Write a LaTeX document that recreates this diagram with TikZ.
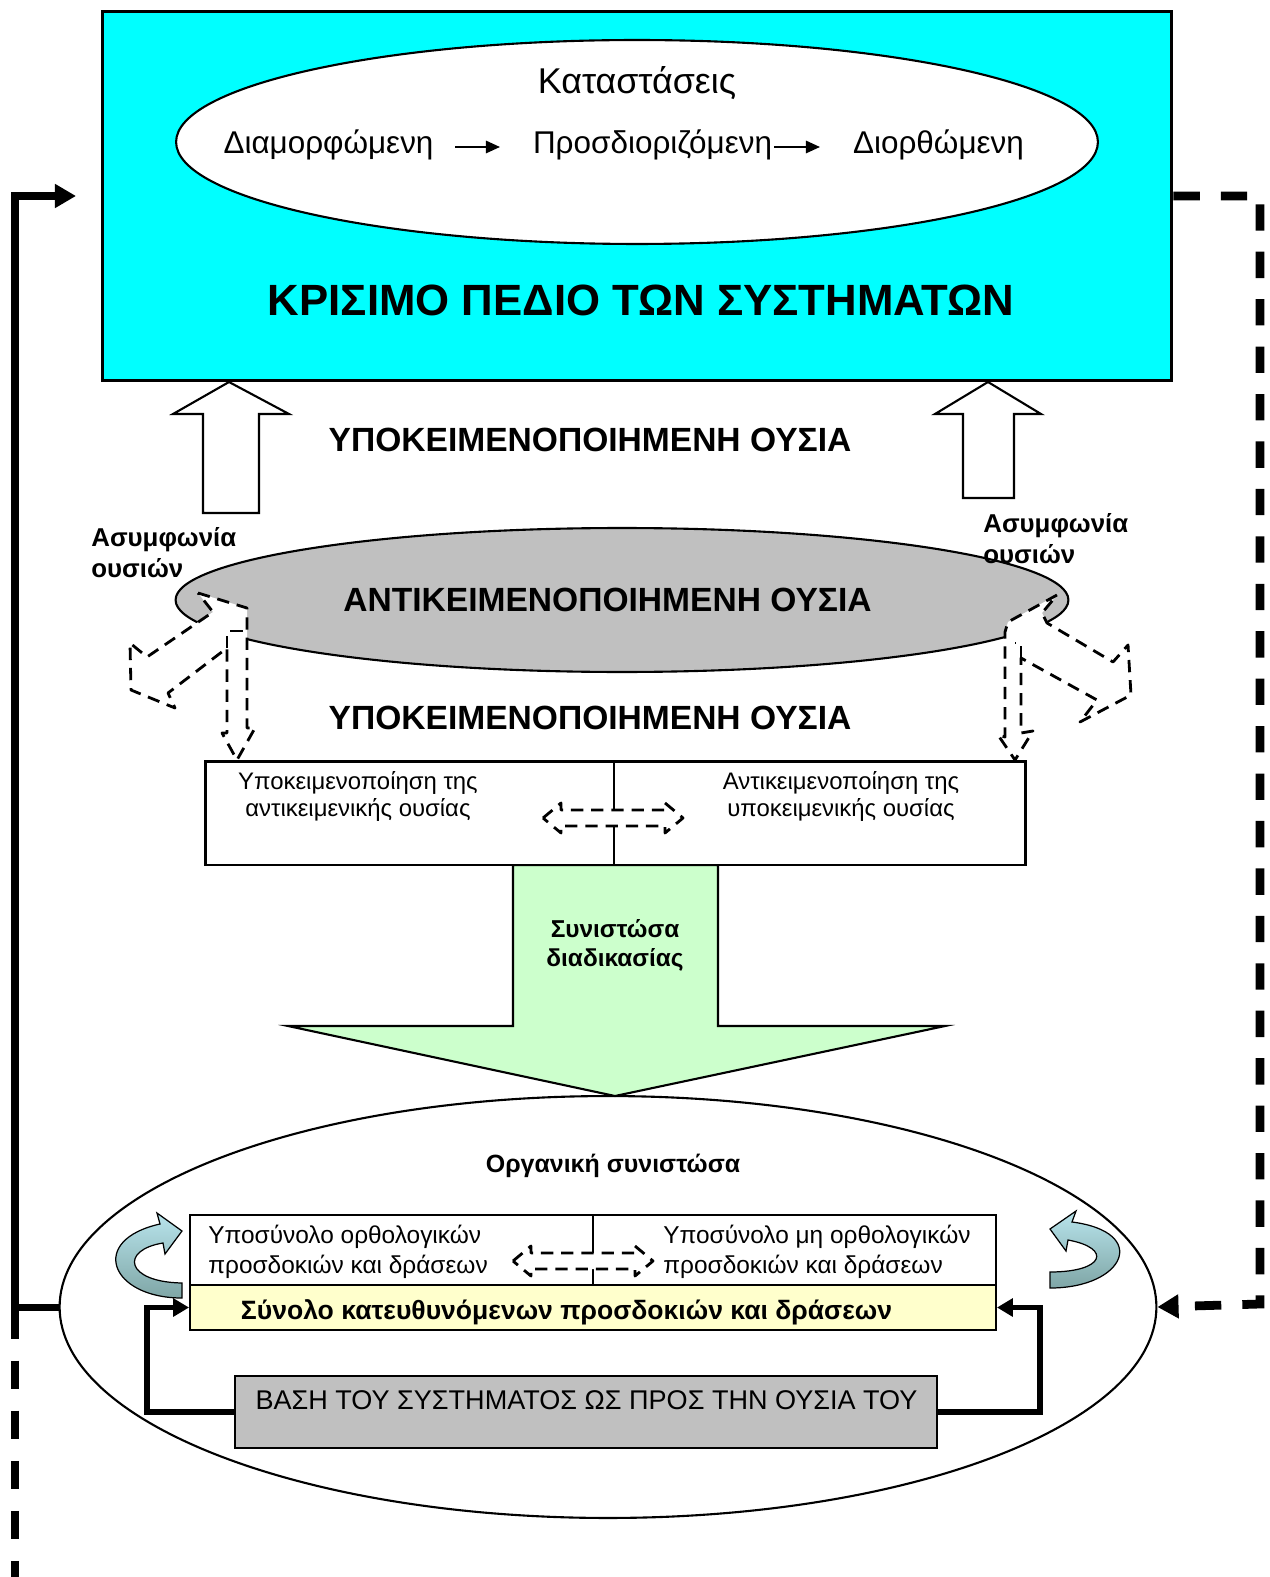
\documentclass[tikz,border=0pt]{standalone}
\usepackage{fontspec}
\setmainfont{Liberation Sans}
\usetikzlibrary{arrows.meta,shapes.geometric}
\definecolor{cyanbox}{HTML}{00FFFF}
\definecolor{greyfill}{HTML}{C0C0C0}
\definecolor{greenfill}{HTML}{CCFFCC}
\definecolor{yellowfill}{HTML}{FFFFCC}
\definecolor{ribtop}{HTML}{B8E4EC}
\definecolor{ribbot}{HTML}{7FA6A6}
\newcommand{\setfs}[2]{\fontsize{#1}{#2}\selectfont}
\begin{document}
\begin{tikzpicture}[x=0.02cm,y=-0.02cm,
  txt/.style={inner sep=0pt, anchor=center},
  hollow/.style={draw, fill=white, line width=1.2pt, line join=miter},
  dashpoly/.style={draw, fill=white, line width=1.6pt, dash pattern=on 7pt off 4.5pt, line join=round},
  boxline/.style={draw, line width=1.2pt, inner sep=0pt},
  ribbon/.style={top color=ribtop, bottom color=ribbot, draw=black, line width=0.7pt},
  smallarrow/.style={line width=1.2pt, -{Triangle[length=8pt,width=7pt]}},
  innerconn/.style={line width=3pt, line join=miter, -{Triangle[length=9pt,width=10pt]}},
  fbsolid/.style={line width=4pt, line join=miter},
]
\fill[white] (0,0) rectangle (1269,1577);
\useasboundingbox (0,0) rectangle (1269,1577);

% top critical field
\node[draw, line width=1.7pt, fill=cyanbox, minimum width=21.4cm, minimum height=7.4cm, inner sep=0pt] (crit) at (637,196) {};
\node[ellipse, boxline, fill=white, minimum width=18.44cm, minimum height=4.08cm] (states) at (637,142) {};
\node[txt, font=\setfs{20.4}{24}] (katast) at (637,83) {Καταστάσεις};
\node[txt, font=\setfs{17.9}{21}] (d1) at (328.5,145) {Διαμορφώμενη};
\node[txt, font=\setfs{17.9}{21}] (d2) at (652.5,145) {Προσδιοριζόμενη};
\node[txt, font=\setfs{17.9}{21}] (d3) at (938.5,145) {Διορθώμενη};
\coordinate (a1s) at (455,147); \coordinate (a1e) at (500,147);
\coordinate (a2s) at (774,147); \coordinate (a2e) at (820,147);
\draw[smallarrow] (a1s) -- (a1e);
\draw[smallarrow] (a2s) -- (a2e);
\node[txt, font=\bfseries\setfs{24.9}{30}] (critlabel) at (641,300) {ΚΡΙΣΙΜΟ ΠΕΔΙΟ ΤΩΝ ΣΥΣΤΗΜΑΤΩΝ};

% hollow up arrows
\draw[hollow] (203,513) -- (203,414) -- (173,414) -- (229,382) -- (289,414) -- (259,414) -- (259,513) -- cycle;
\draw[hollow] (963,498) -- (963,414) -- (935,414) -- (988,382) -- (1041,414) -- (1014,414) -- (1014,498) -- cycle;
\node[txt, font=\bfseries\setfs{19.1}{23}] (subj1) at (590,440) {ΥΠΟΚΕΙΜΕΝΟΠΟΙΗΜΕΝΗ ΟΥΣΙΑ};

% objectified essence ellipse
\node[ellipse, boxline, fill=greyfill, minimum width=17.86cm, minimum height=2.88cm] (obj) at (622,600) {};
\node[txt, font=\bfseries\setfs{19.1}{23}] (objlabel) at (607.5,600) {ΑΝΤΙΚΕΙΜΕΝΟΠΟΙΗΜΕΝΗ ΟΥΣΙΑ};
\node[anchor=west, inner sep=0pt, align=left, font=\bfseries\setfs{14.7}{17.6}] (disL) at (91,553) {Ασυμφωνία\\ουσιών};
\node[anchor=west, inner sep=0pt, align=left, font=\bfseries\setfs{14.7}{17.6}] (disR) at (983,539) {Ασυμφωνία\\ουσιών};

% dashed arrows at the ellipse ends
\draw[dashpoly] (198,593) -- (247,608) -- (247,728) -- (255,728) -- (237,760) -- (222,733) -- (227,733) -- (227,648) -- (168,693) -- (175,708) -- (131,690) -- (130,643) -- (147,657) -- (213,612) -- cycle;
\draw[dashpoly] (227,648) -- (227,631) -- (243,631);
\draw[dashpoly] (1057,595) -- (1008,622) -- (1005,632) -- (1005,737) -- (998,735) -- (1015,760) -- (1033,731) -- (1021,733) -- (1021,658) -- (1097,700) -- (1080,722) -- (1131,695) -- (1128,645) -- (1113,662) -- (1047,623) -- (1042,613) -- cycle;
\draw[dashpoly] (1021,658) -- (1021,643) -- (1015,643);

\node[txt, font=\bfseries\setfs{19.1}{23}] (subj2) at (590,718) {ΥΠΟΚΕΙΜΕΝΟΠΟΙΗΜΕΝΗ ΟΥΣΙΑ};

% green process arrow
\draw[draw, fill=greenfill, line width=1.2pt, line join=miter] (513,865) -- (513,1026) -- (288,1026) -- (615,1096) -- (945,1026) -- (718,1026) -- (718,865) -- cycle;
\node[txt, align=center, font=\bfseries\setfs{13.9}{16.4}] (proc) at (615,945.5) {Συνιστώσα\\διαδικασίας};

% middle rectangle
\node[draw, line width=1.7pt, fill=white, minimum width=16.42cm, minimum height=2.08cm, inner sep=0pt] (mid) at (615.5,813) {};
\coordinate (midtop) at (614,761); \coordinate (midbot) at (614,865);
\draw[line width=1pt] (midtop) -- (midbot);
\node[txt, align=center, font=\setfs{13.6}{15.3}] (tL) at (358,796.5) {Υποκειμενοποίηση της\\αντικειμενικής ουσίας};
\node[txt, align=center, font=\setfs{13.6}{15.3}] (tR) at (841,796.5) {Αντικειμενοποίηση της\\υποκειμενικής ουσίας};
\begin{scope}[shift={(613,818)}]
\draw[dashpoly] (-70,0) -- (-52,-15) -- (-52,-8) -- (52,-8) -- (52,-15) -- (70,0) -- (52,15) -- (52,8) -- (-52,8) -- (-52,15) -- cycle;
\end{scope}

% organic component ellipse
\node[ellipse, boxline, minimum width=21.94cm, minimum height=8.44cm] (org) at (608,1307) {};
\node[txt, font=\bfseries\setfs{14.2}{17}] (orglabel) at (613,1166) {Οργανική συνιστώσα};

\node[boxline, fill=white, minimum width=8.06cm, minimum height=1.4cm] (rat) at (391.5,1250) {};
\node[boxline, fill=white, minimum width=8.06cm, minimum height=1.4cm] (irr) at (794.5,1250) {};
\node[boxline, fill=yellowfill, minimum width=16.12cm, minimum height=0.9cm] (dir) at (593,1307.5) {};
\node[anchor=west, inner sep=0pt, align=left, font=\setfs{13.9}{17}] (ratT) at (208,1252) {Υποσύνολο ορθολογικών\\προσδοκιών και δράσεων};
\node[anchor=west, inner sep=0pt, align=left, font=\setfs{13.9}{17}] (irrT) at (663,1252) {Υποσύνολο μη ορθολογικών\\προσδοκιών και δράσεων};
\node[txt, font=\bfseries\setfs{15.1}{18}] (dirT) at (566.5,1312) {Σύνολο κατευθυνόμενων προσδοκιών και δράσεων};
\begin{scope}[shift={(583,1261)}]
\draw[dashpoly] (-70,0) -- (-52,-15) -- (-52,-8) -- (52,-8) -- (52,-15) -- (70,0) -- (52,15) -- (52,8) -- (-52,8) -- (-52,15) -- cycle;
\end{scope}

\node[boxline, fill=greyfill, minimum width=14.04cm, minimum height=1.44cm] (base) at (586,1412) {};
\node[txt, font=\setfs{15.4}{18}] (baseT) at (586.5,1400) {ΒΑΣΗ ΤΟΥ ΣΥΣΤΗΜΑΤΟΣ ΩΣ ΠΡΟΣ ΤΗΝ ΟΥΣΙΑ ΤΟΥ};

% inner connectors
\draw[innerconn] (base.west) -- ++(-87,0) |- (dir.west);
\draw[innerconn] (base.east) -- ++(102,0) |- (dir.east);

% curved ribbons
\shadedraw[ribbon] (182,1298) .. controls (110,1298) and (88,1240) .. (160,1224) -- (157,1213) -- (182,1231) -- (165,1254) -- (163,1243) .. controls (120,1250) and (125,1282) .. (182,1283) -- cycle;
\shadedraw[ribbon] (1050,1288) .. controls (1125,1288) and (1150,1232) .. (1072,1222) -- (1076,1211) -- (1050,1229) -- (1066,1251) -- (1068,1240) .. controls (1112,1248) and (1105,1272) .. (1050,1272) -- cycle;

% left feedback
\coordinate (fbL) at (15,1307);
\coordinate (fbLtop) at (15,196);
\coordinate (fbLend) at (76,196);
\coordinate (fbLbot) at (15,1580);
\draw[fbsolid, -{Triangle[length=12pt,width=13pt]}] (org.west) -- (fbL) -- (fbLtop) -- (fbLend);
\draw[line width=4pt, dash pattern=on 16pt off 12.5pt] ([yshift=-2pt]fbL) -- (fbLbot);

% right feedback
\coordinate (fbR1) at (1260,196);
\coordinate (fbR2) at (1260,1304);
\draw[line width=5pt, line join=miter, dash pattern=on 15pt off 12pt, -{Triangle[length=12pt,width=13pt]}] (crit.east |- fbR1) -- (fbR1) -- (fbR2) -- (org.east);
\end{tikzpicture}
\end{document}
